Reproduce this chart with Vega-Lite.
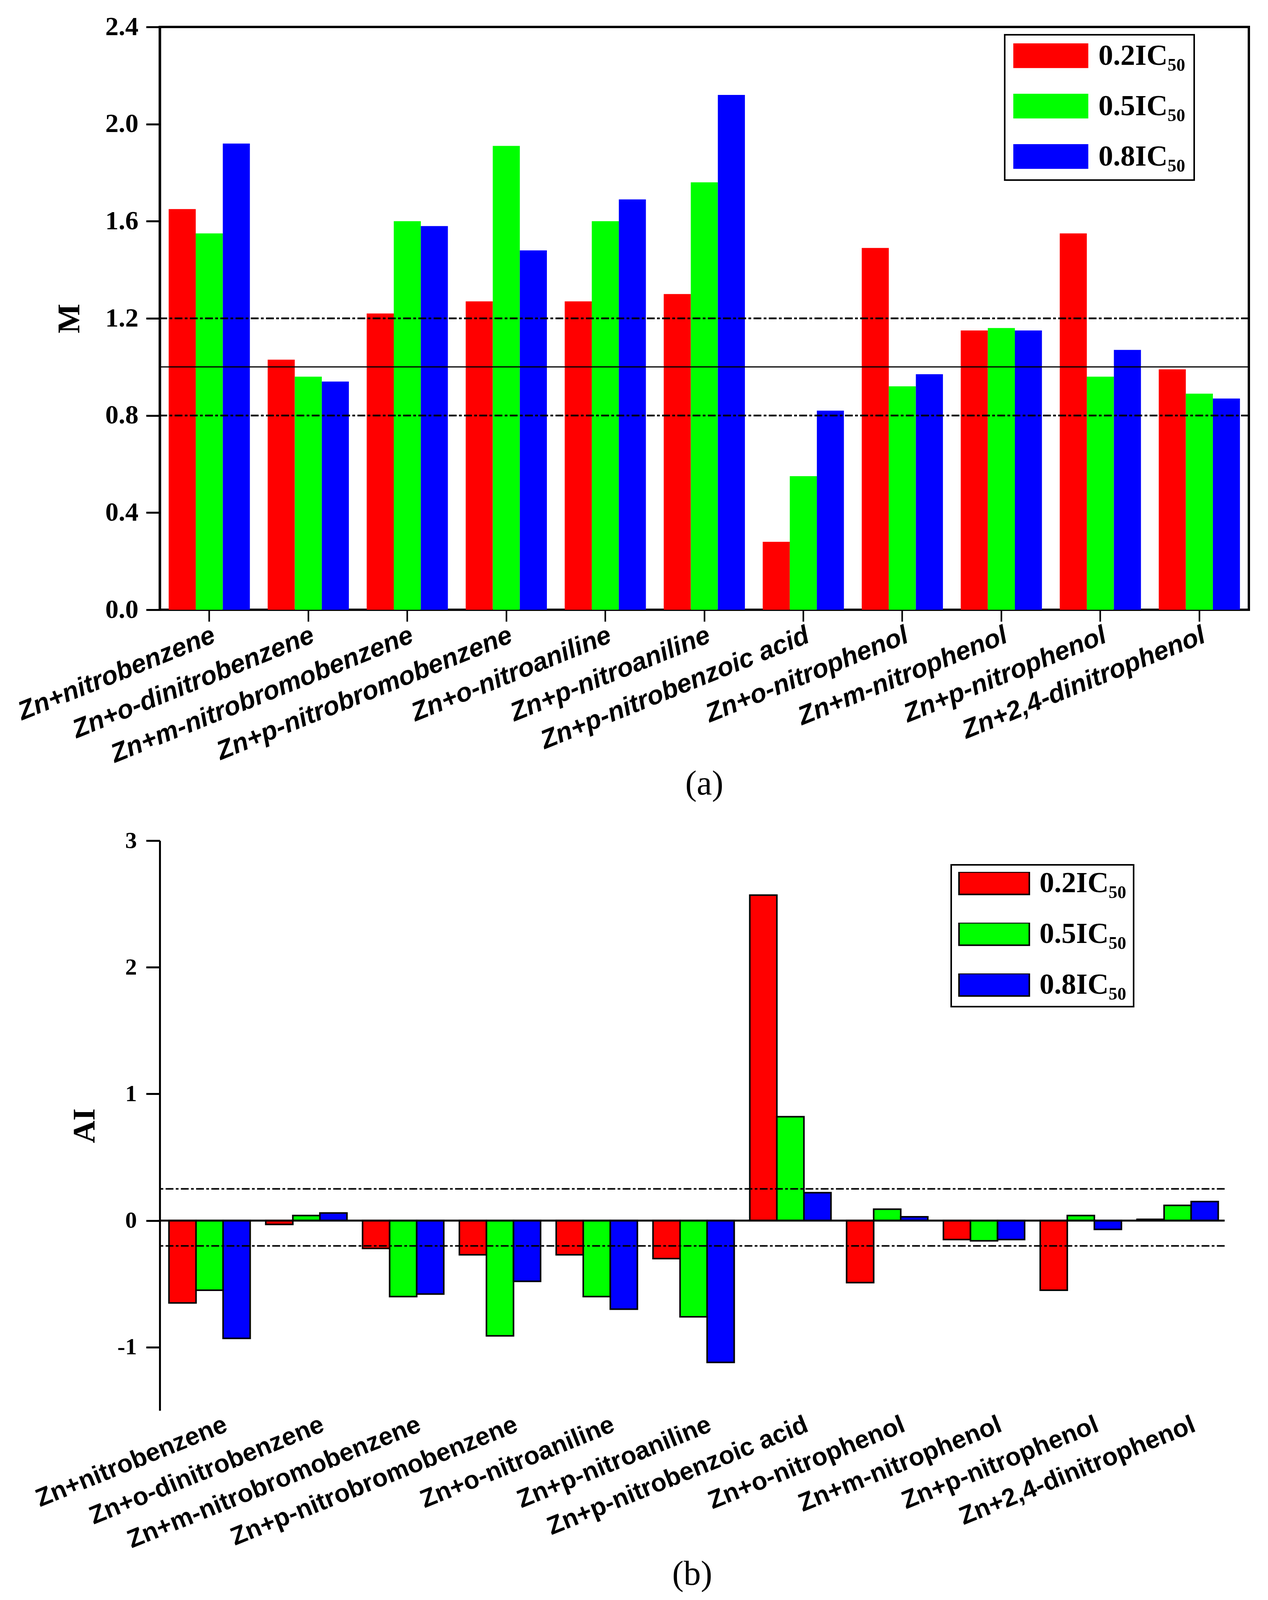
{
  "$schema": "https://vega.github.io/schema/vega-lite/v6.json",
  "background": "white",
  "padding": {"left": 33, "top": 32, "right": 5, "bottom": 5},
  "spacing": 66,
  "resolve": {"scale": {"color": "independent"}, "legend": {"color": "independent"}},
  "datasets": {
    "tox": [
      {"c": "Zn+nitrobenzene", "d": "0.2IC50", "M": 1.65, "AI": -0.65},
      {"c": "Zn+nitrobenzene", "d": "0.5IC50", "M": 1.55, "AI": -0.55},
      {"c": "Zn+nitrobenzene", "d": "0.8IC50", "M": 1.92, "AI": -0.93},
      {"c": "Zn+o-dinitrobenzene", "d": "0.2IC50", "M": 1.03, "AI": -0.03},
      {"c": "Zn+o-dinitrobenzene", "d": "0.5IC50", "M": 0.96, "AI": 0.04},
      {"c": "Zn+o-dinitrobenzene", "d": "0.8IC50", "M": 0.94, "AI": 0.06},
      {"c": "Zn+m-nitrobromobenzene", "d": "0.2IC50", "M": 1.22, "AI": -0.22},
      {"c": "Zn+m-nitrobromobenzene", "d": "0.5IC50", "M": 1.60, "AI": -0.60},
      {"c": "Zn+m-nitrobromobenzene", "d": "0.8IC50", "M": 1.58, "AI": -0.58},
      {"c": "Zn+p-nitrobromobenzene", "d": "0.2IC50", "M": 1.27, "AI": -0.27},
      {"c": "Zn+p-nitrobromobenzene", "d": "0.5IC50", "M": 1.91, "AI": -0.91},
      {"c": "Zn+p-nitrobromobenzene", "d": "0.8IC50", "M": 1.48, "AI": -0.48},
      {"c": "Zn+o-nitroaniline", "d": "0.2IC50", "M": 1.27, "AI": -0.27},
      {"c": "Zn+o-nitroaniline", "d": "0.5IC50", "M": 1.60, "AI": -0.60},
      {"c": "Zn+o-nitroaniline", "d": "0.8IC50", "M": 1.69, "AI": -0.70},
      {"c": "Zn+p-nitroaniline", "d": "0.2IC50", "M": 1.30, "AI": -0.30},
      {"c": "Zn+p-nitroaniline", "d": "0.5IC50", "M": 1.76, "AI": -0.76},
      {"c": "Zn+p-nitroaniline", "d": "0.8IC50", "M": 2.12, "AI": -1.12},
      {"c": "Zn+p-nitrobenzoic acid", "d": "0.2IC50", "M": 0.28, "AI": 2.57},
      {"c": "Zn+p-nitrobenzoic acid", "d": "0.5IC50", "M": 0.55, "AI": 0.82},
      {"c": "Zn+p-nitrobenzoic acid", "d": "0.8IC50", "M": 0.82, "AI": 0.22},
      {"c": "Zn+o-nitrophenol", "d": "0.2IC50", "M": 1.49, "AI": -0.49},
      {"c": "Zn+o-nitrophenol", "d": "0.5IC50", "M": 0.92, "AI": 0.09},
      {"c": "Zn+o-nitrophenol", "d": "0.8IC50", "M": 0.97, "AI": 0.03},
      {"c": "Zn+m-nitrophenol", "d": "0.2IC50", "M": 1.15, "AI": -0.15},
      {"c": "Zn+m-nitrophenol", "d": "0.5IC50", "M": 1.16, "AI": -0.16},
      {"c": "Zn+m-nitrophenol", "d": "0.8IC50", "M": 1.15, "AI": -0.15},
      {"c": "Zn+p-nitrophenol", "d": "0.2IC50", "M": 1.55, "AI": -0.55},
      {"c": "Zn+p-nitrophenol", "d": "0.5IC50", "M": 0.96, "AI": 0.04},
      {"c": "Zn+p-nitrophenol", "d": "0.8IC50", "M": 1.07, "AI": -0.07},
      {"c": "Zn+2,4-dinitrophenol", "d": "0.2IC50", "M": 0.99, "AI": 0.01},
      {"c": "Zn+2,4-dinitrophenol", "d": "0.5IC50", "M": 0.89, "AI": 0.12},
      {"c": "Zn+2,4-dinitrophenol", "d": "0.8IC50", "M": 0.87, "AI": 0.15}
    ]
  },
  "config": {
    "font": "Liberation Serif",
    "axis": {
      "domainColor": "black",
      "tickColor": "black",
      "labelColor": "black",
      "titleColor": "black",
      "grid": false
    },
    "title": {"color": "black"}
  },
  "vconcat": [
    {
      "width": 2788,
      "height": 1492,
      "view": {"stroke": "black", "strokeWidth": 6},
      "title": {
        "text": "(a)",
        "orient": "bottom",
        "anchor": "middle",
        "font": "Liberation Serif",
        "fontSize": 88,
        "fontWeight": "normal",
        "offset": 0
      },
      "layer": [
        {
          "data": {"name": "tox"},
          "mark": {"type": "bar"},
          "encoding": {
            "x": {
              "field": "c",
              "type": "nominal",
              "sort": null,
              "scale": {"paddingInner": 0.18, "paddingOuter": 0.09},
              "axis": {
                "title": null,
                "domain": false,
                "tickSize": 30,
                "tickWidth": 4,
                "labelAngle": -22,
                "labelAlign": "right",
                "labelBaseline": "top",
                "labelFont": "Liberation Sans",
                "labelFontStyle": "italic",
                "labelFontWeight": "bold",
                "labelFontSize": 67,
                "labelPadding": 2,
                "labelLimit": 2000,
                "labelOverlap": false
              }
            },
            "xOffset": {"field": "d", "type": "nominal", "sort": null},
            "y": {
              "field": "M",
              "type": "quantitative",
              "title": "M",
              "scale": {"domain": [0, 2.4], "nice": false},
              "axis": {
                "values": [0, 0.4, 0.8, 1.2, 1.6, 2.0, 2.4],
                "format": ".1f",
                "domainWidth": 6,
                "tickSize": 35,
                "tickWidth": 5,
                "labelFont": "Liberation Serif",
                "labelFontWeight": "bold",
                "labelFontSize": 68,
                "labelPadding": 20,
                "titleFont": "Liberation Serif",
                "titleFontWeight": "bold",
                "titleFontSize": 80,
                "titlePadding": 50
              }
            },
            "color": {
              "field": "d",
              "type": "nominal",
              "sort": null,
              "scale": {"range": ["#ff0000", "#00ff00", "#0000ff"]},
              "legend": {
                "title": null,
                "orient": "none",
                "legendX": 2163,
                "legendY": 20,
                "direction": "vertical",
                "symbolType": "M-1,-0.33H1V0.33H-1Z",
                "symbolSize": 36864,
                "symbolStrokeWidth": 0,
                "clipHeight": 63,
                "rowPadding": 53,
                "labelFont": "Liberation Serif",
                "labelFontWeight": "bold",
                "labelFontSize": 75,
                "labelOffset": 26,
                "labelLimit": 1000,
                "labelExpr": "slice(datum.label, 0, 5) + '\u2085\u2080'",
                "strokeColor": "black",
                "padding": 22,
                "encode": {
                  "legend": {"update": {"strokeWidth": {"value": 4}}}
                }
              }
            }
          }
        },
        {
          "data": {"values": [{"ref": 0.8}, {"ref": 1.2}]},
          "mark": {"type": "rule", "color": "black", "strokeWidth": 4.5, "strokeDash": [20, 6, 7, 6]},
          "encoding": {"y": {"field": "ref", "type": "quantitative", "title": "M"}}
        },
        {
          "data": {"values": [{"ref": 1.0}]},
          "mark": {"type": "rule", "color": "black", "strokeWidth": 3},
          "encoding": {"y": {"field": "ref", "type": "quantitative", "title": "M"}}
        }
      ]
    },
    {
      "width": 2726,
      "height": 1459,
      "view": {"stroke": null},
      "title": {
        "text": "(b)",
        "orient": "bottom",
        "anchor": "middle",
        "font": "Liberation Serif",
        "fontSize": 88,
        "fontWeight": "normal",
        "offset": 12
      },
      "layer": [
        {
          "data": {"name": "tox"},
          "mark": {"type": "bar", "stroke": "black", "strokeWidth": 4},
          "encoding": {
            "x": {
              "field": "c",
              "type": "nominal",
              "sort": null,
              "scale": {"paddingInner": 0.19, "paddingOuter": 0.095},
              "axis": {
                "title": null,
                "domain": false,
                "ticks": false,
                "labelAngle": -22,
                "labelAlign": "right",
                "labelBaseline": "top",
                "labelOffset": 34,
                "labelFont": "Liberation Sans",
                "labelFontWeight": "bold",
                "labelFontSize": 65,
                "labelPadding": 4,
                "labelLimit": 2000,
                "labelOverlap": false
              }
            },
            "xOffset": {"field": "d", "type": "nominal", "sort": null},
            "y": {
              "field": "AI",
              "type": "quantitative",
              "title": "AI",
              "scale": {"domain": [-1.5, 3], "nice": false},
              "axis": {
                "values": [-1, 0, 1, 2, 3],
                "format": "d",
                "labelExpr": "replace(datum.label, '\u2212', '-')",
                "domainWidth": 5,
                "tickSize": 35,
                "tickWidth": 5,
                "labelFont": "Liberation Serif",
                "labelFontWeight": "bold",
                "labelFontSize": 60,
                "labelPadding": 24,
                "titleFont": "Liberation Serif",
                "titleFontWeight": "bold",
                "titleFontSize": 80,
                "titlePadding": 42
              }
            },
            "color": {
              "field": "d",
              "type": "nominal",
              "sort": null,
              "scale": {"range": ["#ff0000", "#00ff00", "#0000ff"]},
              "legend": {
                "title": null,
                "orient": "none",
                "legendX": 2026,
                "legendY": 62,
                "direction": "vertical",
                "symbolType": "M-1,-0.32H1V0.32H-1Z",
                "symbolSize": 32400,
                "symbolStrokeColor": "black",
                "symbolStrokeWidth": 4,
                "clipHeight": 58,
                "rowPadding": 55,
                "labelFont": "Liberation Serif",
                "labelFontWeight": "bold",
                "labelFontSize": 75,
                "labelOffset": 24,
                "labelLimit": 1000,
                "labelExpr": "slice(datum.label, 0, 5) + '\u2085\u2080'",
                "strokeColor": "black",
                "padding": 18,
                "encode": {
                  "legend": {"update": {"strokeWidth": {"value": 4}}}
                }
              }
            }
          }
        },
        {
          "data": {"values": [{"ref": 0.25}, {"ref": -0.2}]},
          "mark": {"type": "rule", "color": "black", "strokeWidth": 4, "strokeDash": [20, 6, 7, 6]},
          "encoding": {"y": {"field": "ref", "type": "quantitative", "title": "AI"}}
        },
        {
          "data": {"values": [{"ref": 0}]},
          "mark": {"type": "rule", "color": "black", "strokeWidth": 5},
          "encoding": {"y": {"field": "ref", "type": "quantitative", "title": "AI"}}
        }
      ]
    }
  ]
}
